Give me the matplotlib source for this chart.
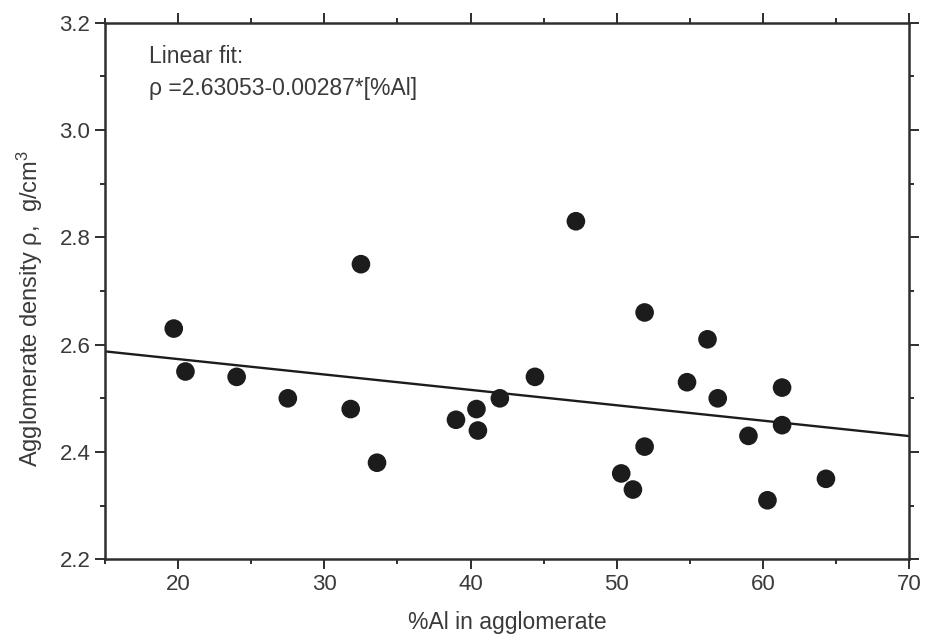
import numpy as np
import matplotlib
matplotlib.use('Agg')
import matplotlib.pyplot as plt
from matplotlib.ticker import MultipleLocator

plt.rcParams['font.family'] = ['Liberation Sans', 'DejaVu Sans']
plt.rcParams['mathtext.fontset'] = 'custom'
plt.rcParams['mathtext.rm'] = 'Liberation Sans'
plt.rcParams['mathtext.it'] = 'Liberation Sans'

# data
al_pct = [19.7, 20.5, 24.0, 27.5, 31.8, 32.5, 33.6, 39.0, 40.4, 40.5, 42.0, 44.4,
          47.2, 50.3, 51.1, 51.9, 51.9, 54.8, 56.2, 56.9, 59.0, 60.3, 61.3, 61.3, 64.3]
density = [2.63, 2.55, 2.54, 2.50, 2.48, 2.75, 2.38, 2.46, 2.48, 2.44, 2.50, 2.54,
           2.83, 2.36, 2.33, 2.66, 2.41, 2.53, 2.61, 2.50, 2.43, 2.31, 2.52, 2.45, 2.35]

# linear fit coefficients from the label
fit_a = 2.63053
fit_b = -0.00287
fit_x = [15, 70]

text_col = '#3a3a3a'
ink = '#1c1c1c'

fig = plt.figure(figsize=(9.27, 6.4), dpi=100)
ax = fig.add_axes([0.1133, 0.1261, 0.8676, 0.8384])

fx = np.array(fit_x)
ax.plot(fx, fit_a + fit_b * fx, color=ink, lw=1.7, zorder=2)
ax.scatter(al_pct, density, s=180, color=ink, edgecolors='none', zorder=3)

ax.set_xlim(15, 70)
ax.set_ylim(2.2, 3.2)
ax.xaxis.set_major_locator(MultipleLocator(10))
ax.xaxis.set_minor_locator(MultipleLocator(5))
ax.yaxis.set_major_locator(MultipleLocator(0.2))
ax.yaxis.set_minor_locator(MultipleLocator(0.1))
ax.xaxis.set_major_formatter(lambda v, p: '%d' % v)
ax.yaxis.set_major_formatter(lambda v, p: '%.1f' % v)

ax.tick_params(which='both', direction='out', top=True, right=True,
               color='#2e2e2e', width=1.4, labelsize=16, labelcolor=text_col)
ax.tick_params(which='major', length=7)
ax.tick_params(which='minor', length=3.5)
for s in ax.spines.values():
    s.set_linewidth(1.8)
    s.set_color('#2e2e2e')

ax.set_xlabel('%Al in agglomerate', fontsize=16.5, color=text_col)
ax.xaxis.set_label_coords(0.5, -0.097)
ax.set_ylabel(r'Agglomerate density ρ,  g/cm$^3$', fontsize=17, color=text_col)
ax.yaxis.set_label_coords(-0.075, 0.468)

ax.text(18.0, 3.124, 'Linear fit:', fontsize=16.5, color=text_col, va='baseline')
ax.text(18.0, 3.065, 'ρ =2.63053-0.00287*[%Al]', fontsize=16.5, color=text_col, va='baseline')

fig.savefig('out.png', dpi=100)
